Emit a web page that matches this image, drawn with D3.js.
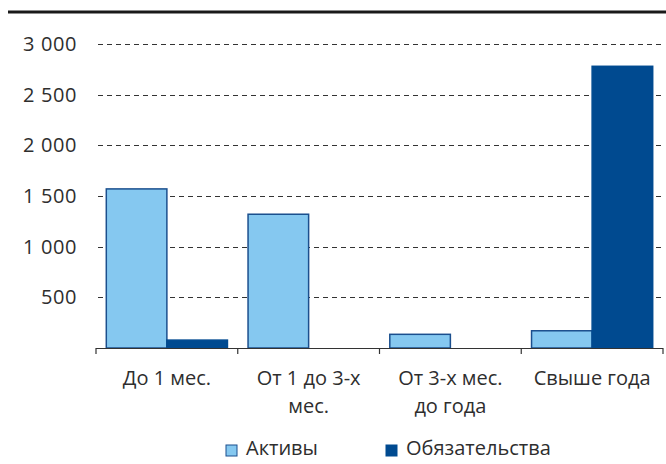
<!DOCTYPE html>
<html><head><meta charset="utf-8">
<script src="https://cdn.jsdelivr.net/npm/d3@7"></script>
<style>body{margin:0;background:#fff}svg{display:block}text{font-family:"Open Sans",sans-serif;fill:#2e2e2e}</style>
</head><body><svg id="c" width="666" height="464"></svg>
<script>
const categories = [["До 1 мес."], ["От 1 до 3-х", "мес."], ["От 3-х мес.", "до года"], ["Свыше года"]];
const seriesNames = ["Активы", "Обязательства"];
const assets = [1570, 1320, 135, 170];
const liabilities = [78, 0, 0, 2780];
const yTicks = [500, 1000, 1500, 2000, 2500, 3000];
const colors = ["#85c8f0", "#004a90"];
const strokes = ["#1b4f8e", "#004a90"];
const FS = 20;

const svg = d3.select("#c");
const m = {l: 96, r: 663, t: 44, b: 348};
svg.append("line").attr("x1", 8).attr("x2", 666).attr("y1", 12).attr("y2", 12)
  .attr("stroke", "#1a1a1a").attr("stroke-width", 3);

const y = d3.scaleLinear().domain([0, 3000]).range([m.b, m.t]);
const x = d3.scaleBand().domain(d3.range(categories.length)).range([m.l, m.r]);
const xs = d3.scaleBand().domain([0, 1]).range([0, x.bandwidth()]).paddingOuter(0.17).paddingInner(0);

// grid
const g = svg.append("g");
g.selectAll("line.grid").data(yTicks).join("line")
  .attr("x1", m.l + 2).attr("x2", m.r).attr("y1", d => Math.round(y(d)) + 0.5).attr("y2", d => Math.round(y(d)) + 0.5)
  .attr("stroke", "#333").attr("stroke-dasharray", "5,4").attr("stroke-width", 1);
g.selectAll("text.yl").data(yTicks).join("text")
  .attr("x", 77).attr("y", d => y(d)).attr("dy", "0.35em").attr("text-anchor", "end")
  .attr("font-size", FS).attr("letter-spacing", 0.6).text(d => d3.format(",")(d).replace(/,/g, " "));

const series = [assets, liabilities];
series.forEach((vals, si) => {
  svg.append("g").selectAll("rect").data(vals).join("rect")
    .attr("x", (d, i) => x(i) + xs(si)).attr("width", xs.bandwidth())
    .attr("y", d => y(d)).attr("height", d => m.b - y(d))
    .attr("fill", colors[si]).attr("stroke", d => d > 0 ? strokes[si] : "none").attr("stroke-width", 1.5);
});

// x axis
const ax = svg.append("g");
ax.append("line").attr("x1", m.l).attr("x2", m.r).attr("y1", m.b + 0.5).attr("y2", m.b + 0.5).attr("stroke", "#333").attr("stroke-width", 1.2);
const tickXs = d3.range(categories.length).map(i => x(i)).concat([m.r]);
ax.selectAll("line.t").data(tickXs).join("line")
  .attr("x1", d => d).attr("x2", d => d).attr("y1", m.b).attr("y2", m.b + 6).attr("stroke", "#333").attr("stroke-width", 1.2);
categories.forEach((lines, i) => {
  lines.forEach((ln, j) => {
    ax.append("text").attr("x", x(i) + x.bandwidth() / 2).attr("y", 385 + j * 28)
      .attr("text-anchor", "middle").attr("font-size", FS).text(ln);
  });
});

// legend
const lg = svg.append("g");
const lx = [226, 386];
seriesNames.forEach((n, i) => {
  lg.append("rect").attr("x", lx[i]).attr("y", 445).attr("width", 11).attr("height", 11)
    .attr("fill", colors[i]).attr("stroke", strokes[i]).attr("stroke-width", 1);
  lg.append("text").attr("x", lx[i] + 20).attr("y", 455).attr("font-size", FS).text(n);
});
</script></body></html>
